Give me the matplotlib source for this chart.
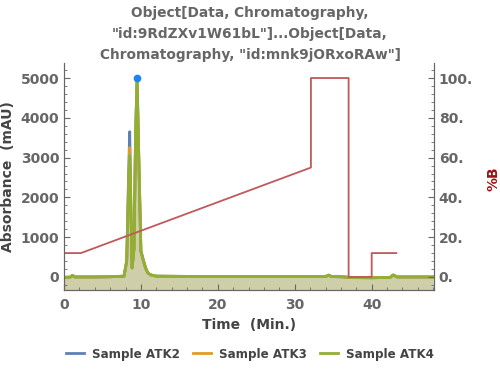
import matplotlib.pyplot as plt
import numpy as np

# absorbance traces (mAU)
time = [0, 0.8, 1.1, 1.4, 2, 4, 6, 7.8, 8.15, 8.4, 8.54, 8.7, 8.85, 9.1, 9.3, 9.5,
        9.7, 10.0, 10.3, 10.6, 10.9, 11.3, 12, 15, 20, 25, 30, 34.0, 34.4, 34.8,
        36, 37.5, 40, 42.4, 42.8, 43.3, 45, 48]
atk2 = [-10, -5, 40, 0, 0, 0, 5, 20, 400, 2600, 3650, 1800, 240, 700, 3500, 5000,
        3200, 650, 430, 230, 100, 50, 20, 15, 10, 10, 10, 10, 45, 10,
        5, -15, -20, -10, 50, 0, 0, 0]
atk3 = [-10, -5, 40, 0, 0, 0, 5, 20, 400, 2400, 3250, 1700, 230, 700, 3500, 5000,
        3200, 650, 430, 230, 100, 50, 20, 15, 10, 10, 10, 10, 45, 10,
        5, -15, -20, -10, 50, 0, 0, 0]
atk4 = [-10, -5, 40, 0, 0, 0, 5, 20, 400, 2250, 3050, 1600, 220, 700, 3500, 5000,
        3200, 650, 430, 230, 100, 50, 20, 15, 10, 10, 10, 10, 45, 10,
        5, -15, -20, -10, 50, 0, 0, 0]

# gradient (%B)
grad_time = [0, 2.2, 32.1, 32.1, 37.0, 37.0, 40.0, 40.0, 43.2]
grad_b = [12, 12, 55, 100, 100, 0, 0, 12, 12]

samples = ["Sample ATK2", "Sample ATK3", "Sample ATK4"]
colors = ["#5e81b5", "#e19c24", "#8fb032"]
gray = "#666666"

fig = plt.figure(figsize=(5, 3.7), dpi=100)
ax = fig.add_axes([0.128, 0.216, 0.74, 0.614])
ax2 = ax.twinx()

ymin, ymax = -330, 5380
for y, c, name in zip([atk2, atk3, atk4], colors, samples):
    ax.fill_between(time, y, ymin, color=c, alpha=0.2, lw=0, zorder=1)
for y, c, name in zip([atk2, atk3, atk4], colors, samples):
    ax.plot(time, y, color=c, lw=2, label=name, zorder=3)
ax.plot([9.5], [5000], "o", color="#1a84f0", ms=4.5, zorder=5)

ax2.plot(grad_time, grad_b, color="#c0585c", lw=1.3)

ax.set_xlim(0, 48.1)
ax.set_ylim(ymin, ymax)
ax2.set_ylim(ymin / 50, ymax / 50)

ax.set_xticks([0, 10, 20, 30, 40])
ax.set_xticks(np.arange(0, 48.1, 2), minor=True)
ax.set_yticks([0, 1000, 2000, 3000, 4000, 5000])
ax.set_yticks(np.arange(-200, 5380, 200), minor=True)
ax2.set_yticks([0, 20, 40, 60, 80, 100])
ax2.set_yticklabels(["0.", "20.", "40.", "60.", "80.", "100."])
ax2.set_yticks(np.arange(-4, 107, 4), minor=True)

for a in (ax, ax2):
    a.spines["top"].set_visible(False)
    for s in a.spines.values():
        s.set_color(gray)
    a.tick_params(which="both", direction="in", colors=gray, labelcolor=gray)
    a.tick_params(which="major", length=4, labelsize=10)
    a.tick_params(which="minor", length=2)
    for lab in a.get_xticklabels() + a.get_yticklabels():
        lab.set_fontweight("bold")
ax.tick_params(axis="x", pad=6)

ax.set_xlabel("Time  (Min.)", fontsize=10, fontweight="bold", color="#444444")
ax.set_ylabel("Absorbance  (mAU)", fontsize=10, fontweight="bold", color="#444444")
ax2.set_ylabel("%B", fontsize=10, fontweight="bold", color="#a01010", rotation=90)
ax2.yaxis.set_label_coords(1.141, 0.49)

fig.suptitle('Object[Data, Chromatography,\n"id:9RdZXv1W61bL"]...Object[Data,\nChromatography, "id:mnk9jORxoRAw"]',
             x=0.5, y=0.985, fontsize=9.9, fontweight="bold", color=gray, linespacing=1.65)

leg = fig.legend(loc="center", bbox_to_anchor=(0.5, 0.043), ncol=3, frameon=False,
                 handlelength=1.5, handletextpad=0.7, columnspacing=1.1,
                 prop={"weight": "bold", "size": 8.6})
for t in leg.get_texts():
    t.set_color("#444444")

fig.savefig("out.png", dpi=100)
